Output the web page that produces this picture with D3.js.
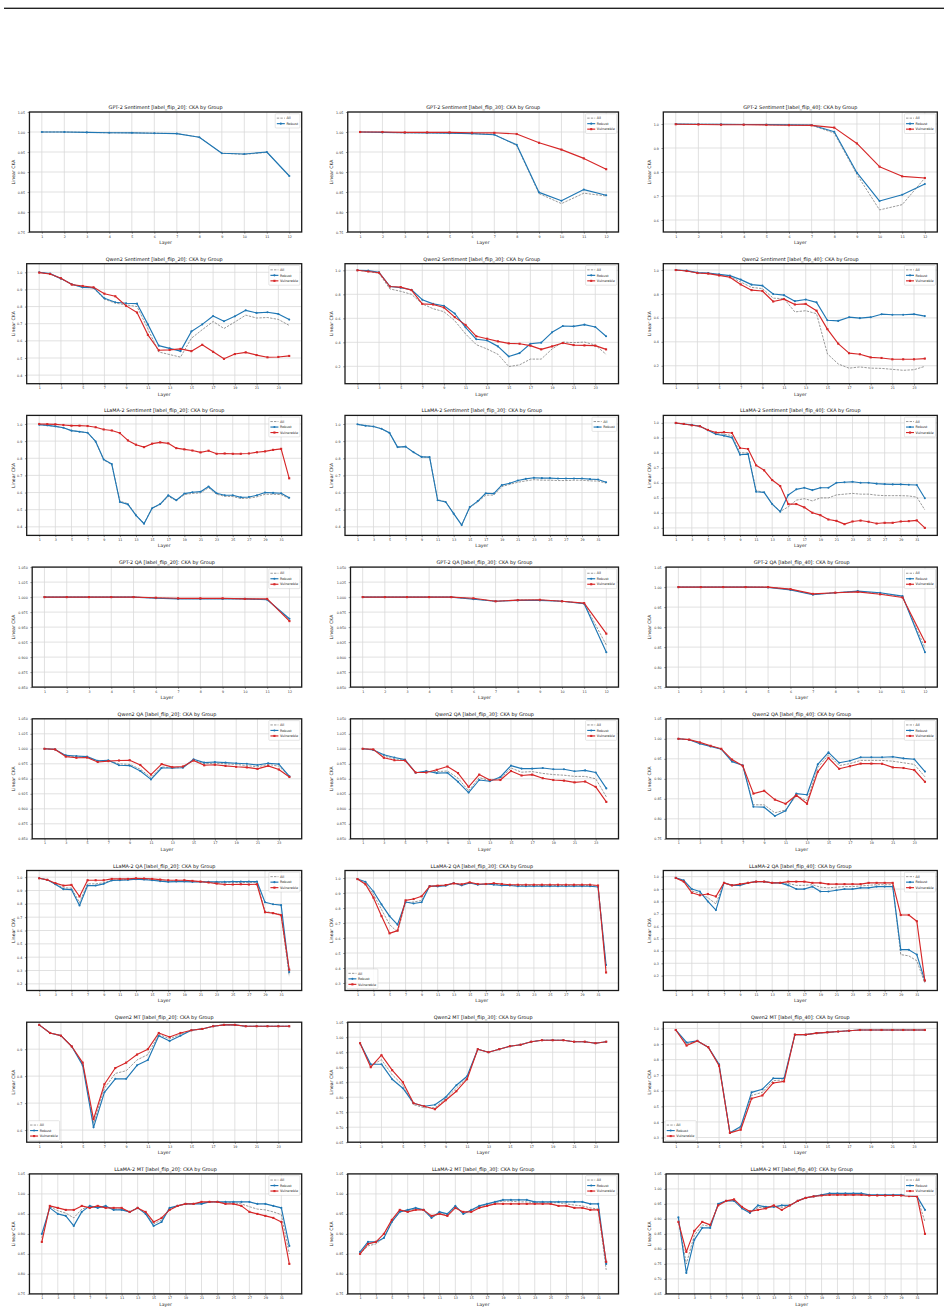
<!DOCTYPE html>
<html><head><meta charset="utf-8">
<script src="https://cdn.jsdelivr.net/npm/d3@7"></script>
<style>body{margin:0;background:#fff}svg{display:block}text{font-family:"DejaVu Sans",sans-serif}</style>
</head><body><svg id="c" width="948" height="1314"></svg>
<script>
// ---------- categories / ticks ----------
const layers12 = [1,2,3,4,5,6,7,8,9,10,11,12];
const layers24 = [1,2,3,4,5,6,7,8,9,10,11,12,13,14,15,16,17,18,19,20,21,22,23,24];
const layers32 = [1,2,3,4,5,6,7,8,9,10,11,12,13,14,15,16,17,18,19,20,21,22,23,24,25,26,27,28,29,30,31,32];
const xt12 = [1,2,3,4,5,6,7,8,9,10,11,12];
const xt24 = [1,3,5,7,9,11,13,15,17,19,21,23];
const xt32 = [1,3,5,7,9,11,13,15,17,19,21,23,25,27,29,31];
const yt075_105 = [0.75,0.80,0.85,0.90,0.95,1.00,1.05];
const yt065_105 = [0.65,0.70,0.75,0.80,0.85,0.90,0.95,1.00,1.05];
const yt085_105 = [0.850,0.875,0.900,0.925,0.950,0.975,1.000,1.025,1.050];
const yt06_10 = [0.6,0.7,0.8,0.9,1.0];
const yt04_10 = [0.4,0.5,0.6,0.7,0.8,0.9,1.0];
const yt03_10 = [0.3,0.4,0.5,0.6,0.7,0.8,0.9,1.0];
const yt02_10 = [0.2,0.3,0.4,0.5,0.6,0.7,0.8,0.9,1.0];
const yt02_10b = [0.2,0.4,0.6,0.8,1.0];
const yt06_09 = [0.6,0.7,0.8,0.9];
const seriesNames = ["All","Robust","Vulnerable"];

// ---------- GPT-2 Sentiment ----------
const gs20All = [1.000,1.000,0.999,0.998,0.998,0.997,0.996,0.987,0.947,0.944,0.949,0.890];
const gs20Rob = [1.000,1.000,0.999,0.998,0.998,0.997,0.996,0.987,0.947,0.945,0.950,0.890];
const gs30All = [1.000,0.999,0.998,0.998,0.997,0.996,0.994,0.966,0.846,0.821,0.847,0.840];
const gs30Rob = [1.000,0.999,0.998,0.998,0.997,0.996,0.993,0.968,0.849,0.828,0.856,0.842];
const gs30Vul = [1.000,1.000,0.999,0.999,0.999,0.998,0.998,0.995,0.973,0.956,0.934,0.907];
const gs40All = [0.999,0.999,0.998,0.998,0.997,0.996,0.995,0.962,0.790,0.642,0.664,0.775];
const gs40Rob = [1.000,0.999,0.999,0.998,0.998,0.997,0.996,0.968,0.797,0.679,0.705,0.750];
const gs40Vul = [0.999,0.998,0.997,0.997,0.996,0.995,0.994,0.985,0.919,0.822,0.782,0.775];
// ---------- Qwen2 Sentiment ----------
const qs20All = [1.000,0.990,0.963,0.929,0.914,0.908,0.843,0.820,0.810,0.800,0.670,0.535,0.520,0.505,0.615,0.665,0.713,0.672,0.710,0.750,0.733,0.736,0.725,0.690];
const qs20Rob = [1.000,0.992,0.963,0.930,0.912,0.910,0.848,0.825,0.819,0.817,0.696,0.572,0.556,0.540,0.655,0.696,0.745,0.714,0.743,0.778,0.763,0.767,0.757,0.724];
const qs20Vul = [0.998,0.990,0.965,0.928,0.920,0.912,0.875,0.860,0.804,0.765,0.635,0.545,0.547,0.553,0.540,0.577,0.536,0.495,0.523,0.533,0.517,0.504,0.506,0.512];
const qs30All = [1.000,0.990,0.975,0.845,0.825,0.800,0.720,0.680,0.655,0.580,0.470,0.380,0.344,0.300,0.198,0.212,0.260,0.260,0.344,0.402,0.397,0.402,0.377,0.300];
const qs30Rob = [1.000,0.997,0.983,0.866,0.855,0.838,0.755,0.720,0.705,0.640,0.525,0.425,0.415,0.366,0.282,0.310,0.388,0.397,0.483,0.536,0.533,0.547,0.528,0.450];
const qs30Vul = [1.000,0.990,0.980,0.865,0.860,0.835,0.720,0.715,0.690,0.610,0.545,0.450,0.430,0.408,0.391,0.388,0.372,0.341,0.366,0.394,0.377,0.374,0.372,0.341];
const qs40All = [1.000,0.993,0.976,0.972,0.958,0.945,0.900,0.855,0.845,0.765,0.760,0.650,0.660,0.635,0.300,0.215,0.180,0.190,0.180,0.178,0.170,0.162,0.167,0.195];
const qs40Rob = [1.000,0.995,0.978,0.975,0.964,0.953,0.920,0.878,0.870,0.800,0.790,0.740,0.754,0.730,0.580,0.575,0.606,0.598,0.606,0.631,0.626,0.626,0.631,0.615];
const qs40Vul = [1.000,0.992,0.975,0.970,0.955,0.940,0.880,0.832,0.825,0.737,0.757,0.712,0.717,0.660,0.506,0.385,0.305,0.296,0.270,0.265,0.254,0.254,0.254,0.260];
// ---------- LLaMA-2 Sentiment ----------
const ls20All = [0.996,0.992,0.986,0.978,0.961,0.955,0.949,0.897,0.790,0.763,0.550,0.535,0.470,0.420,0.510,0.530,0.578,0.553,0.588,0.595,0.598,0.628,0.590,0.578,0.577,0.565,0.567,0.575,0.590,0.590,0.588,0.565];
const ls20Rob = [0.996,0.992,0.986,0.978,0.961,0.955,0.949,0.898,0.793,0.766,0.545,0.531,0.467,0.418,0.508,0.533,0.584,0.555,0.594,0.602,0.605,0.635,0.596,0.584,0.584,0.572,0.574,0.584,0.600,0.598,0.596,0.570];
const ls20Vul = [1.000,0.999,0.998,0.994,0.990,0.990,0.988,0.981,0.968,0.962,0.947,0.904,0.879,0.865,0.885,0.893,0.887,0.859,0.852,0.845,0.834,0.844,0.826,0.828,0.826,0.826,0.828,0.835,0.840,0.849,0.855,0.683];
const ls30All = [0.998,0.990,0.985,0.972,0.948,0.865,0.868,0.835,0.808,0.806,0.558,0.547,0.478,0.412,0.512,0.545,0.585,0.585,0.635,0.648,0.660,0.668,0.675,0.672,0.672,0.670,0.670,0.672,0.672,0.668,0.667,0.655];
const ls30Rob = [0.998,0.990,0.985,0.972,0.948,0.865,0.868,0.835,0.808,0.807,0.555,0.545,0.477,0.410,0.515,0.550,0.596,0.594,0.643,0.654,0.670,0.680,0.686,0.684,0.684,0.682,0.682,0.682,0.682,0.678,0.676,0.660];
const ls40All = [0.999,0.993,0.985,0.978,0.952,0.930,0.925,0.915,0.800,0.800,0.550,0.535,0.460,0.410,0.440,0.485,0.495,0.480,0.500,0.500,0.520,0.525,0.530,0.525,0.525,0.518,0.515,0.515,0.515,0.513,0.505,0.420];
const ls40Rob = [0.998,0.993,0.987,0.978,0.951,0.924,0.915,0.902,0.788,0.792,0.541,0.537,0.459,0.408,0.519,0.557,0.568,0.552,0.568,0.568,0.601,0.604,0.608,0.601,0.601,0.595,0.592,0.590,0.590,0.588,0.586,0.498];
const ls40Vul = [1.000,0.993,0.984,0.978,0.953,0.936,0.938,0.933,0.833,0.826,0.717,0.684,0.619,0.579,0.459,0.459,0.437,0.401,0.385,0.356,0.347,0.325,0.343,0.349,0.341,0.329,0.334,0.334,0.343,0.345,0.350,0.300];
// ---------- GPT-2 QA ----------
const gq20All = [1.000,1.000,1.000,1.000,1.000,0.9985,0.9975,0.9975,0.9975,0.997,0.996,0.962];
const gq20Rob = [1.000,1.000,1.000,1.000,1.000,0.998,0.997,0.997,0.997,0.997,0.9955,0.964];
const gq20Vul = [1.000,1.000,1.000,1.000,1.000,0.999,0.998,0.998,0.998,0.997,0.997,0.960];
const gq30All = [1.000,1.000,1.000,1.000,1.000,0.997,0.993,0.995,0.995,0.993,0.9895,0.920];
const gq30Rob = [1.000,1.000,1.000,1.000,1.000,0.9965,0.993,0.9945,0.9945,0.993,0.989,0.908];
const gq30Vul = [1.000,1.000,1.000,1.000,1.000,0.998,0.993,0.995,0.9955,0.993,0.990,0.939];
const gq40All = [1.000,1.000,1.000,1.000,1.000,0.994,0.982,0.986,0.989,0.984,0.976,0.848];
const gq40Rob = [1.000,1.000,1.000,1.000,0.999,0.993,0.981,0.986,0.990,0.986,0.9775,0.837];
const gq40Vul = [1.000,1.000,1.000,1.000,1.000,0.995,0.983,0.986,0.988,0.982,0.974,0.863];
// ---------- Qwen2 QA ----------
const qq20All = [1.000,0.999,0.988,0.987,0.986,0.979,0.980,0.975,0.974,0.966,0.952,0.970,0.968,0.969,0.981,0.975,0.976,0.975,0.974,0.972,0.970,0.974,0.971,0.954];
const qq20Rob = [1.000,0.999,0.989,0.988,0.987,0.980,0.981,0.9725,0.972,0.963,0.949,0.968,0.968,0.9685,0.9825,0.977,0.978,0.977,0.976,0.975,0.973,0.976,0.9745,0.954];
const qq20Vul = [1.000,0.999,0.987,0.985,0.9855,0.978,0.9795,0.9805,0.981,0.973,0.957,0.9745,0.9695,0.9705,0.9805,0.9725,0.9735,0.9715,0.970,0.969,0.9665,0.9715,0.9655,0.953];
const qq30All = [1.000,0.999,0.988,0.983,0.981,0.960,0.962,0.962,0.963,0.951,0.930,0.952,0.947,0.950,0.968,0.961,0.962,0.959,0.957,0.956,0.954,0.954,0.950,0.920];
const qq30Rob = [1.000,0.998,0.990,0.9856,0.982,0.960,0.963,0.9595,0.960,0.945,0.927,0.948,0.946,0.953,0.972,0.967,0.967,0.968,0.966,0.966,0.9625,0.964,0.9605,0.934];
const qq30Vul = [1.000,0.999,0.985,0.981,0.9805,0.9605,0.9605,0.965,0.9705,0.9595,0.9365,0.957,0.948,0.948,0.963,0.9555,0.957,0.951,0.948,0.947,0.944,0.9455,0.9365,0.9115];
const qq40All = [1.000,0.998,0.989,0.982,0.974,0.945,0.933,0.835,0.835,0.815,0.822,0.858,0.845,0.928,0.960,0.933,0.938,0.946,0.946,0.946,0.944,0.940,0.936,0.905];
const qq40Rob = [1.000,0.9975,0.9875,0.981,0.974,0.943,0.934,0.830,0.829,0.807,0.820,0.863,0.860,0.936,0.966,0.940,0.945,0.954,0.954,0.954,0.955,0.951,0.949,0.918];
const qq40Vul = [1.000,0.998,0.991,0.9825,0.975,0.948,0.9325,0.863,0.870,0.848,0.8375,0.859,0.8375,0.9175,0.952,0.925,0.9315,0.938,0.938,0.9375,0.9285,0.927,0.922,0.8925];
// ---------- LLaMA-2 QA ----------
const lq20All = [0.992,0.980,0.950,0.920,0.918,0.810,0.950,0.950,0.958,0.978,0.980,0.982,0.987,0.985,0.980,0.974,0.969,0.970,0.970,0.967,0.966,0.963,0.960,0.958,0.959,0.960,0.959,0.960,0.745,0.730,0.720,0.258];
const lq20Rob = [0.992,0.980,0.947,0.910,0.907,0.787,0.937,0.937,0.950,0.975,0.977,0.980,0.985,0.982,0.977,0.970,0.965,0.967,0.967,0.965,0.965,0.965,0.965,0.965,0.967,0.967,0.967,0.967,0.812,0.797,0.790,0.288];
const lq20Vul = [0.992,0.980,0.955,0.937,0.942,0.855,0.977,0.977,0.977,0.987,0.987,0.987,0.992,0.990,0.987,0.982,0.977,0.977,0.977,0.972,0.967,0.960,0.952,0.945,0.945,0.947,0.945,0.947,0.737,0.730,0.715,0.306];
const lq30All = [0.993,0.965,0.890,0.790,0.690,0.640,0.835,0.840,0.850,0.945,0.946,0.950,0.965,0.955,0.968,0.957,0.960,0.958,0.955,0.952,0.950,0.950,0.950,0.950,0.950,0.950,0.950,0.950,0.950,0.950,0.945,0.400];
const lq30Rob = [0.993,0.975,0.910,0.824,0.746,0.689,0.840,0.830,0.838,0.947,0.944,0.949,0.967,0.951,0.967,0.955,0.960,0.955,0.950,0.950,0.945,0.945,0.945,0.945,0.945,0.945,0.945,0.945,0.945,0.945,0.940,0.420];
const lq30Vul = [0.993,0.958,0.869,0.746,0.631,0.649,0.851,0.860,0.878,0.944,0.949,0.953,0.964,0.958,0.971,0.960,0.960,0.965,0.960,0.955,0.955,0.955,0.955,0.955,0.955,0.955,0.955,0.955,0.955,0.955,0.950,0.370];
const lq40All = [0.990,0.965,0.885,0.865,0.830,0.780,0.950,0.930,0.935,0.950,0.960,0.960,0.950,0.950,0.945,0.930,0.930,0.935,0.915,0.910,0.915,0.920,0.920,0.925,0.930,0.935,0.935,0.935,0.370,0.360,0.320,0.140];
const lq40Rob = [0.990,0.970,0.900,0.880,0.800,0.730,0.950,0.930,0.930,0.950,0.960,0.960,0.950,0.950,0.930,0.900,0.900,0.920,0.880,0.880,0.890,0.900,0.900,0.910,0.910,0.920,0.920,0.920,0.410,0.410,0.370,0.160];
const lq40Vul = [0.990,0.960,0.870,0.850,0.860,0.840,0.950,0.930,0.940,0.950,0.960,0.960,0.950,0.950,0.960,0.960,0.960,0.950,0.950,0.940,0.940,0.940,0.940,0.940,0.950,0.950,0.950,0.950,0.690,0.690,0.640,0.160];
// ---------- Qwen2 MT ----------
const qm20All = [0.990,0.960,0.950,0.910,0.845,0.625,0.755,0.810,0.820,0.860,0.880,0.955,0.938,0.955,0.970,0.975,0.985,0.990,0.990,0.985,0.985,0.985,0.985,0.985];
const qm20Rob = [0.990,0.960,0.950,0.910,0.840,0.610,0.740,0.790,0.790,0.840,0.860,0.950,0.930,0.950,0.970,0.975,0.985,0.990,0.990,0.985,0.985,0.985,0.985,0.985];
const qm20Vul = [0.990,0.960,0.950,0.910,0.850,0.640,0.770,0.830,0.850,0.880,0.900,0.960,0.945,0.960,0.970,0.975,0.985,0.990,0.990,0.985,0.985,0.985,0.985,0.985];
const qm30All = [0.980,0.905,0.925,0.875,0.840,0.775,0.765,0.765,0.795,0.830,0.865,0.960,0.950,0.960,0.970,0.975,0.985,0.990,0.990,0.990,0.985,0.985,0.980,0.985];
const qm30Rob = [0.980,0.910,0.910,0.860,0.830,0.780,0.770,0.775,0.800,0.840,0.870,0.960,0.950,0.960,0.970,0.975,0.985,0.990,0.990,0.990,0.985,0.985,0.980,0.985];
const qm30Vul = [0.980,0.900,0.940,0.890,0.850,0.780,0.770,0.760,0.790,0.820,0.860,0.960,0.950,0.960,0.970,0.975,0.985,0.990,0.990,0.990,0.985,0.985,0.980,0.985];
const qm40All = [0.990,0.900,0.920,0.880,0.765,0.330,0.360,0.570,0.590,0.665,0.670,0.960,0.960,0.970,0.975,0.980,0.985,0.990,0.990,0.990,0.990,0.990,0.990,0.990];
const qm40Rob = [0.990,0.910,0.920,0.880,0.770,0.330,0.370,0.590,0.610,0.680,0.680,0.960,0.960,0.970,0.975,0.980,0.985,0.990,0.990,0.990,0.990,0.990,0.990,0.990];
const qm40Vul = [0.990,0.890,0.920,0.880,0.760,0.330,0.350,0.550,0.570,0.650,0.660,0.960,0.960,0.970,0.975,0.980,0.985,0.990,0.990,0.990,0.990,0.990,0.990,0.990];
// ---------- LLaMA-2 MT ----------
const lm20All = [0.890,0.968,0.958,0.952,0.940,0.962,0.968,0.967,0.968,0.962,0.962,0.955,0.965,0.952,0.925,0.935,0.962,0.970,0.975,0.975,0.977,0.980,0.980,0.978,0.978,0.975,0.968,0.962,0.960,0.955,0.948,0.850];
const lm20Rob = [0.900,0.965,0.950,0.945,0.920,0.955,0.970,0.965,0.970,0.960,0.960,0.955,0.965,0.950,0.920,0.930,0.965,0.970,0.975,0.975,0.975,0.980,0.980,0.980,0.980,0.980,0.980,0.975,0.975,0.970,0.965,0.870];
const lm20Vul = [0.880,0.970,0.965,0.960,0.960,0.970,0.965,0.970,0.965,0.965,0.965,0.955,0.965,0.955,0.930,0.940,0.960,0.970,0.975,0.975,0.980,0.980,0.980,0.975,0.975,0.970,0.955,0.950,0.945,0.940,0.930,0.825];
const lm30All = [0.850,0.870,0.875,0.890,0.930,0.955,0.958,0.962,0.960,0.940,0.952,0.948,0.968,0.952,0.958,0.968,0.972,0.978,0.982,0.982,0.980,0.980,0.978,0.978,0.978,0.978,0.975,0.972,0.970,0.965,0.962,0.810];
const lm30Rob = [0.855,0.880,0.880,0.890,0.930,0.955,0.960,0.965,0.960,0.940,0.955,0.950,0.970,0.950,0.960,0.970,0.975,0.980,0.985,0.985,0.985,0.985,0.980,0.980,0.980,0.980,0.980,0.980,0.980,0.975,0.975,0.825];
const lm30Vul = [0.850,0.875,0.880,0.900,0.935,0.960,0.955,0.960,0.960,0.945,0.950,0.945,0.965,0.955,0.955,0.965,0.970,0.975,0.975,0.975,0.975,0.975,0.975,0.975,0.975,0.970,0.970,0.965,0.965,0.960,0.960,0.830];
const lm40All = [0.895,0.750,0.845,0.880,0.875,0.948,0.960,0.962,0.938,0.922,0.938,0.938,0.942,0.938,0.945,0.960,0.970,0.975,0.978,0.980,0.980,0.980,0.980,0.980,0.978,0.978,0.978,0.978,0.978,0.976,0.975,0.890];
const lm40Rob = [0.905,0.720,0.830,0.870,0.870,0.950,0.960,0.960,0.935,0.920,0.945,0.940,0.940,0.945,0.945,0.960,0.970,0.975,0.980,0.985,0.985,0.985,0.985,0.985,0.980,0.980,0.980,0.980,0.980,0.978,0.975,0.930];
const lm40Vul = [0.890,0.790,0.860,0.890,0.880,0.945,0.960,0.965,0.940,0.925,0.930,0.935,0.945,0.930,0.945,0.960,0.970,0.975,0.978,0.980,0.980,0.980,0.980,0.980,0.978,0.978,0.978,0.978,0.978,0.976,0.975,0.850];

// ---------- panel table (built from the arrays) ----------
const panels = [
 {t:"GPT-2 Sentiment [label_flip_20]: CKA by Group", x:layers12, xt:xt12, s:[gs20All,gs20Rob,null], yd:[0.75,1.05], yt:yt075_105, dec:2, leg:"ur"},
 {t:"GPT-2 Sentiment [label_flip_30]: CKA by Group", x:layers12, xt:xt12, s:[gs30All,gs30Rob,gs30Vul], yd:[0.75,1.05], yt:yt075_105, dec:2, leg:"ur"},
 {t:"GPT-2 Sentiment [label_flip_40]: CKA by Group", x:layers12, xt:xt12, s:[gs40All,gs40Rob,gs40Vul], yd:[0.55,1.05], yt:yt06_10, dec:1, leg:"ur"},
 {t:"Qwen2 Sentiment [label_flip_20]: CKA by Group", x:layers24, xt:xt24, s:[qs20All,qs20Rob,qs20Vul], yd:[0.35,1.05], yt:yt04_10, dec:1, leg:"ur"},
 {t:"Qwen2 Sentiment [label_flip_30]: CKA by Group", x:layers24, xt:xt24, s:[qs30All,qs30Rob,qs30Vul], yd:[0.055,1.055], yt:yt02_10b, dec:1, leg:"ur"},
 {t:"Qwen2 Sentiment [label_flip_40]: CKA by Group", x:layers24, xt:xt24, s:[qs40All,qs40Rob,qs40Vul], yd:[0.05,1.053], yt:yt02_10b, dec:1, leg:"ur"},
 {t:"LLaMA-2 Sentiment [label_flip_20]: CKA by Group", x:layers32, xt:xt32, s:[ls20All,ls20Rob,ls20Vul], yd:[0.35,1.05], yt:yt04_10, dec:1, leg:"ur"},
 {t:"LLaMA-2 Sentiment [label_flip_30]: CKA by Group", x:layers32, xt:xt32, s:[ls30All,ls30Rob,null], yd:[0.35,1.05], yt:yt04_10, dec:1, leg:"ur"},
 {t:"LLaMA-2 Sentiment [label_flip_40]: CKA by Group", x:layers32, xt:xt32, s:[ls40All,ls40Rob,ls40Vul], yd:[0.25,1.05], yt:yt03_10, dec:1, leg:"ur"},
 {t:"GPT-2 QA [label_flip_20]: CKA by Group", x:layers12, xt:xt12, s:[gq20All,gq20Rob,gq20Vul], yd:[0.85,1.05], yt:yt085_105, dec:3, leg:"ur"},
 {t:"GPT-2 QA [label_flip_30]: CKA by Group", x:layers12, xt:xt12, s:[gq30All,gq30Rob,gq30Vul], yd:[0.85,1.05], yt:yt085_105, dec:3, leg:"ur"},
 {t:"GPT-2 QA [label_flip_40]: CKA by Group", x:layers12, xt:xt12, s:[gq40All,gq40Rob,gq40Vul], yd:[0.75,1.05], yt:yt075_105, dec:2, leg:"ur"},
 {t:"Qwen2 QA [label_flip_20]: CKA by Group", x:layers24, xt:xt24, s:[qq20All,qq20Rob,qq20Vul], yd:[0.85,1.05], yt:yt085_105, dec:3, leg:"ur"},
 {t:"Qwen2 QA [label_flip_30]: CKA by Group", x:layers24, xt:xt24, s:[qq30All,qq30Rob,qq30Vul], yd:[0.85,1.05], yt:yt085_105, dec:3, leg:"ur"},
 {t:"Qwen2 QA [label_flip_40]: CKA by Group", x:layers24, xt:xt24, s:[qq40All,qq40Rob,qq40Vul], yd:[0.75,1.05], yt:yt075_105, dec:2, leg:"ur"},
 {t:"LLaMA-2 QA [label_flip_20]: CKA by Group", x:layers32, xt:xt32, s:[lq20All,lq20Rob,lq20Vul], yd:[0.15,1.05], yt:yt02_10, dec:1, leg:"ur"},
 {t:"LLaMA-2 QA [label_flip_30]: CKA by Group", x:layers32, xt:xt32, s:[lq30All,lq30Rob,lq30Vul], yd:[0.25,1.05], yt:yt03_10, dec:1, leg:"ll"},
 {t:"LLaMA-2 QA [label_flip_40]: CKA by Group", x:layers32, xt:xt32, s:[lq40All,lq40Rob,lq40Vul], yd:[0.08,1.05], yt:yt02_10, dec:1, leg:"ur"},
 {t:"Qwen2 MT [label_flip_20]: CKA by Group", x:layers24, xt:xt24, s:[qm20All,qm20Rob,qm20Vul], yd:[0.555,1.0], yt:yt06_09, dec:1, leg:"ll"},
 {t:"Qwen2 MT [label_flip_30]: CKA by Group", x:layers24, xt:xt24, s:[qm30All,qm30Rob,qm30Vul], yd:[0.65,1.05], yt:yt065_105, dec:2, leg:"none"},
 {t:"Qwen2 MT [label_flip_40]: CKA by Group", x:layers24, xt:xt24, s:[qm40All,qm40Rob,qm40Vul], yd:[0.27,1.04], yt:yt03_10, dec:1, leg:"ll"},
 {t:"LLaMA-2 MT [label_flip_20]: CKA by Group", x:layers32, xt:xt32, s:[lm20All,lm20Rob,lm20Vul], yd:[0.75,1.05], yt:yt075_105, dec:2, leg:"ur"},
 {t:"LLaMA-2 MT [label_flip_30]: CKA by Group", x:layers32, xt:xt32, s:[lm30All,lm30Rob,lm30Vul], yd:[0.75,1.05], yt:yt075_105, dec:2, leg:"ur"},
 {t:"LLaMA-2 MT [label_flip_40]: CKA by Group", x:layers32, xt:xt32, s:[lm40All,lm40Rob,lm40Vul], yd:[0.65,1.05], yt:yt065_105, dec:2, leg:"ur"}
];

// ---------- drawing ----------
const svg = d3.select("#c");
const COLORS = ["#7f7f7f", "#1f77b4", "#d62728"];
svg.append("line").attr("x1",4).attr("x2",944).attr("y1",7.5).attr("y2",7.5).attr("stroke","#aaa").attr("stroke-width",1);
svg.append("line").attr("x1",4).attr("x2",944).attr("y1",8.5).attr("y2",8.5).attr("stroke","#222").attr("stroke-width",1.2);

const colBase = [26.7, 345, 663.3], colRight = [301.7, 618.5, 937.3], ylabX = [14.5, 332.9, 651.2];
const TICK_FS = 3.3, TITLE_FS = 4.9, LAB_FS = 4.6, LEG_FS = 3.4;

panels.forEach((p, i) => {
  const r = Math.floor(i / 3), c = i % 3;
  const top = 112 + r * 151.7, bottom = top + 120;
  const left = colBase[c] + (p.dec - 1) * 2.75, right = colRight[c];
  const n = p.x.length, pad = 0.05 * (n - 1);
  const x = d3.scaleLinear().domain([1 - pad, n + pad]).range([left, right]);
  const y = d3.scaleLinear().domain(p.yd).range([bottom, top]);
  const g = svg.append("g");

  g.append("g").selectAll("line").data(p.xt).join("line")
    .attr("x1", d => x(d)).attr("x2", d => x(d)).attr("y1", top).attr("y2", bottom)
    .attr("stroke", "#d9d9d9").attr("stroke-width", 0.8);
  g.append("g").selectAll("line").data(p.yt).join("line")
    .attr("x1", left).attr("x2", right).attr("y1", d => y(d)).attr("y2", d => y(d))
    .attr("stroke", "#d9d9d9").attr("stroke-width", 0.8);

  const ax = g.append("g").attr("transform", `translate(0,${bottom})`)
    .call(d3.axisBottom(x).tickValues(p.xt).tickSize(1.8).tickPadding(1.4).tickFormat(d3.format("d")));
  const ay = g.append("g").attr("transform", `translate(${left},0)`)
    .call(d3.axisLeft(y).tickValues(p.yt).tickSize(1.8).tickPadding(2.6).tickFormat(d3.format(`.${p.dec}f`)));
  [ax, ay].forEach(a => {
    a.select(".domain").remove();
    a.selectAll("line").attr("stroke", "#333").attr("stroke-width", 0.5);
    a.selectAll("text").attr("font-size", TICK_FS).attr("fill", "#333").attr("font-family", "DejaVu Sans");
  });

  const line = d3.line().x((d, k) => x(p.x[k])).y(d => y(d));
  const clip = "clip" + i;
  g.append("clipPath").attr("id", clip).append("rect").attr("x", left).attr("y", top).attr("width", right - left).attr("height", bottom - top);
  const plot = g.append("g").attr("clip-path", `url(#${clip})`);
  p.s.forEach((vals, si) => {
    if (!vals) return;
    if (si === 0) {
      plot.append("path").attr("d", line(vals)).attr("fill", "none").attr("stroke", "#555")
        .attr("stroke-opacity", 0.75).attr("stroke-width", 0.8).attr("stroke-dasharray", "2.4,1.2");
    } else {
      plot.append("path").attr("d", line(vals)).attr("fill", "none").attr("stroke", COLORS[si])
        .attr("stroke-width", 1.15).attr("stroke-linejoin", "round");
      if (si === 1) {
        plot.selectAll(null).data(vals).join("circle")
          .attr("cx", (d, k) => x(p.x[k])).attr("cy", d => y(d)).attr("r", 1.05).attr("fill", COLORS[si]);
      } else {
        plot.selectAll(null).data(vals).join("rect")
          .attr("x", (d, k) => x(p.x[k]) - 1.05).attr("y", d => y(d) - 1.05)
          .attr("width", 2.1).attr("height", 2.1).attr("fill", COLORS[si]);
      }
    }
  });

  g.append("rect").attr("x", left).attr("y", top).attr("width", right - left).attr("height", bottom - top)
    .attr("fill", "none").attr("stroke", "#1a1a1a").attr("stroke-width", 1.3);

  g.append("text").attr("x", (left + right) / 2).attr("y", top - 3).attr("text-anchor", "middle")
    .attr("font-size", TITLE_FS).attr("fill", "#111").text(p.t);
  g.append("text").attr("x", (left + right) / 2).attr("y", bottom + 11.8).attr("text-anchor", "middle")
    .attr("font-size", LAB_FS).attr("fill", "#222").text("Layer");
  g.append("text").attr("transform", `translate(${ylabX[c]},${(top + bottom) / 2}) rotate(-90)`)
    .attr("text-anchor", "middle").attr("font-size", LAB_FS).attr("fill", "#222").text("Linear CKA");

  if (p.leg !== "none") {
    const items = seriesNames.map((nm, si) => ({nm, si})).filter(o => p.s[o.si]);
    const rowH = 5.5, padY = 1.6, sampleW = 8, textGap = 1.6;
    const lg = g.append("g");
    const box = lg.append("rect");
    const texts = [];
    items.forEach((o, k) => {
      const cy = padY + rowH * k + rowH / 2;
      const e = lg.append("g");
      if (o.si === 0) {
        e.append("line").attr("x1", 1.6).attr("x2", 1.6 + sampleW).attr("y1", cy).attr("y2", cy)
          .attr("stroke", "#555").attr("stroke-opacity", 0.75).attr("stroke-width", 0.8).attr("stroke-dasharray", "2.4,1.2");
      } else {
        e.append("line").attr("x1", 1.6).attr("x2", 1.6 + sampleW).attr("y1", cy).attr("y2", cy)
          .attr("stroke", COLORS[o.si]).attr("stroke-width", 1.15);
        if (o.si === 1) e.append("circle").attr("cx", 1.6 + sampleW / 2).attr("cy", cy).attr("r", 1.05).attr("fill", COLORS[1]);
        else e.append("rect").attr("x", 1.6 + sampleW / 2 - 1.05).attr("y", cy - 1.05).attr("width", 2.1).attr("height", 2.1).attr("fill", COLORS[2]);
      }
      texts.push(e.append("text").attr("x", 1.6 + sampleW + textGap).attr("y", cy + LEG_FS * 0.36)
        .attr("font-size", LEG_FS).attr("fill", "#222").text(o.nm));
    });
    const tw = d3.max(texts, t => t.node().getComputedTextLength());
    const bw = 1.6 + sampleW + textGap + tw + 1.8, bh = padY * 2 + rowH * items.length;
    box.attr("width", bw).attr("height", bh).attr("rx", 0.8).attr("fill", "#fff").attr("fill-opacity", 0.85)
      .attr("stroke", "#ccc").attr("stroke-width", 0.5);
    const inset = 1.8;
    const lx = p.leg === "ur" ? right - inset - bw : left + inset;
    const ly = p.leg === "ur" ? top + inset : bottom - inset - bh;
    lg.attr("transform", `translate(${lx},${ly})`);
  }
});
</script></body></html>
